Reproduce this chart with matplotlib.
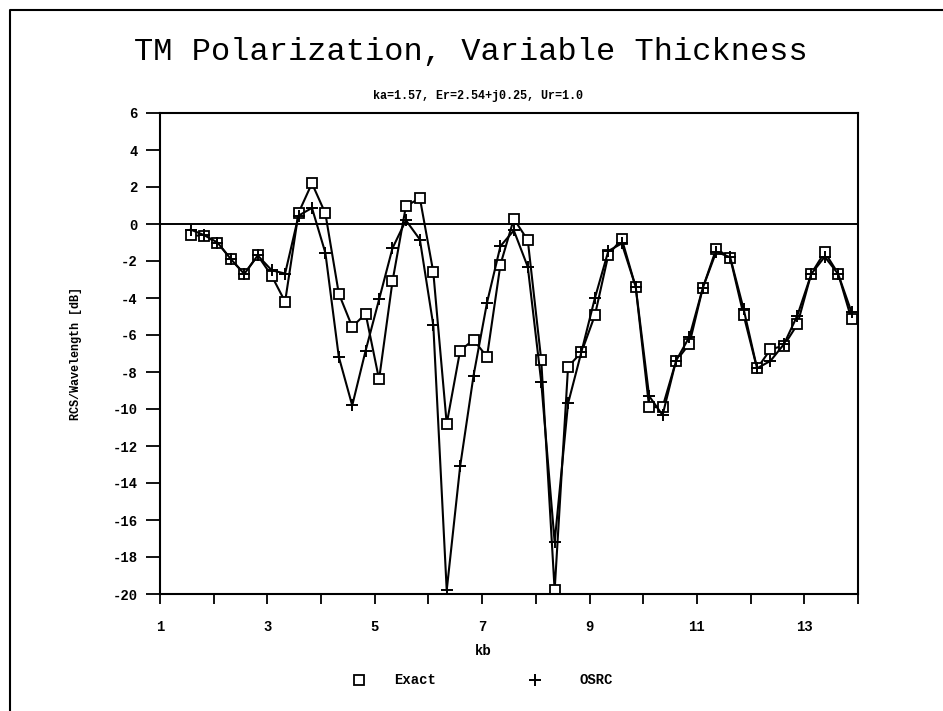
import matplotlib
matplotlib.use("Agg")
import matplotlib.pyplot as plt
from matplotlib.lines import Line2D

kb = [1.57, 1.82, 2.07, 2.32, 2.57, 2.82, 3.08, 3.33, 3.58, 3.83,
      4.08, 4.33, 4.58, 4.83, 5.08, 5.33, 5.58, 5.84, 6.09, 6.34,
      6.59, 6.84, 7.09, 7.34, 7.59, 7.85, 8.10, 8.35, 8.60, 8.85,
      9.10, 9.35, 9.60, 9.86, 10.11, 10.36, 10.61, 10.86, 11.11, 11.36,
      11.62, 11.87, 12.12, 12.37, 12.62, 12.87, 13.13, 13.38, 13.63, 13.88]

exact = [-0.6, -0.65, -1.0, -1.9, -2.7, -1.7, -2.8, -4.2, 0.6, 2.2,
         0.57, -3.76, -5.56, -4.85, -8.4, -3.1, 0.96, 1.4, -2.6, -10.8,
         -6.84, -6.26, -7.18, -2.2, 0.28, -0.88, -7.34, -19.8, -7.72, -6.93,
         -4.93, -1.67, -0.8, -3.41, -9.9, -9.9, -7.41, -6.48, -3.45, -1.34,
         -1.83, -4.93, -7.81, -6.78, -6.57, -5.43, -2.68, -1.52, -2.68, -5.16]

osrc = [-0.3, -0.6, -1.0, -1.9, -2.7, -1.7, -2.5, -2.68, 0.45, 0.87,
        -1.56, -7.18, -9.81, -6.84, -4.08, -1.31, 0.2, -0.84, -5.47, -19.8,
        -13.1, -8.19, -4.26, -1.2, -0.35, -2.32, -8.53, -17.2, -9.7, -6.9,
        -4.0, -1.46, -1.05, -3.4, -9.3, -10.33, -7.4, -6.1, -3.45, -1.5,
        -1.8, -4.6, -7.8, -7.4, -6.5, -4.95, -2.7, -1.77, -2.7, -4.77]

x_ticks = list(range(1, 15))
x_ticklabels = [str(v) if v % 2 == 1 else "" for v in x_ticks]
y_ticks = list(range(-20, 7, 2))

title = "TM Polarization, Variable Thickness"
subtitle = "ka=1.57, Er=2.54+j0.25, Ur=1.0"
xlabel = "kb"
ylabel = "RCS/Wavelength [dB]"
legend_labels = ["Exact", "OSRC"]

W, H = 943, 711
fig = plt.figure(figsize=(W / 100, H / 100), dpi=100)
ax = fig.add_axes([160 / W, 1 - 594 / H, (858 - 160) / W, (594 - 113) / H])

mono = "Liberation Mono"

ax.plot(kb, exact, color="black", lw=1.5, marker="s", ms=7.5, mfc="white",
        mec="black", mew=1.3, clip_on=True)
ax.plot(kb, osrc, color="black", lw=1.5, marker="+", ms=9, mew=1.4, clip_on=True)
ax.axhline(0, color="black", lw=1.4)

ax.set_xlim(1, 14)
ax.set_ylim(-20, 6)
ax.set_xticks(x_ticks)
ax.set_xticklabels(x_ticklabels, fontfamily=mono, fontweight="bold", fontsize=10)
ax.set_yticks(y_ticks)
ax.set_yticklabels([str(v) for v in y_ticks], fontfamily=mono, fontweight="bold", fontsize=10)
ax.tick_params(axis="x", direction="out", length=7, width=1.3, pad=12)
ax.tick_params(axis="y", direction="out", length=10, width=1.3, pad=6)
for s in ax.spines.values():
    s.set_linewidth(1.5)

ax.set_ylabel(ylabel, fontfamily=mono, fontweight="bold", fontsize=8.5, labelpad=22)
fig.text(483 / W, 1 - 651 / H, xlabel, fontfamily=mono, fontweight="bold",
         fontsize=10, ha="center", va="center")

fig.text(471 / W, 1 - 52 / H, title, fontfamily=mono, fontsize=23,
         ha="center", va="center")
fig.text(478 / W, 1 - 96 / H, subtitle, fontfamily=mono, fontweight="bold",
         fontsize=8.5, ha="center", va="center")

# legend below the axes
fig.lines.append(Line2D([359 / W], [1 - 680 / H], marker="s", ms=7, mfc="white",
                        mec="black", mew=1.3, ls="none", transform=fig.transFigure))
fig.text(394 / W, 1 - 680 / H, legend_labels[0], fontfamily=mono, fontweight="bold",
         fontsize=10, ha="left", va="center")
fig.lines.append(Line2D([535 / W], [1 - 680 / H], marker="+", ms=8, mew=1.4,
                        color="black", ls="none", transform=fig.transFigure))
fig.text(579 / W, 1 - 680 / H, legend_labels[1], fontfamily=mono, fontweight="bold",
         fontsize=10, ha="left", va="center")

# page frame
fig.lines.append(Line2D([10 / W, 10 / W, 1.0], [0.0, 1 - 10 / H, 1 - 10 / H],
                        color="black", lw=1.5, transform=fig.transFigure))

fig.savefig("out.png", dpi=100)
